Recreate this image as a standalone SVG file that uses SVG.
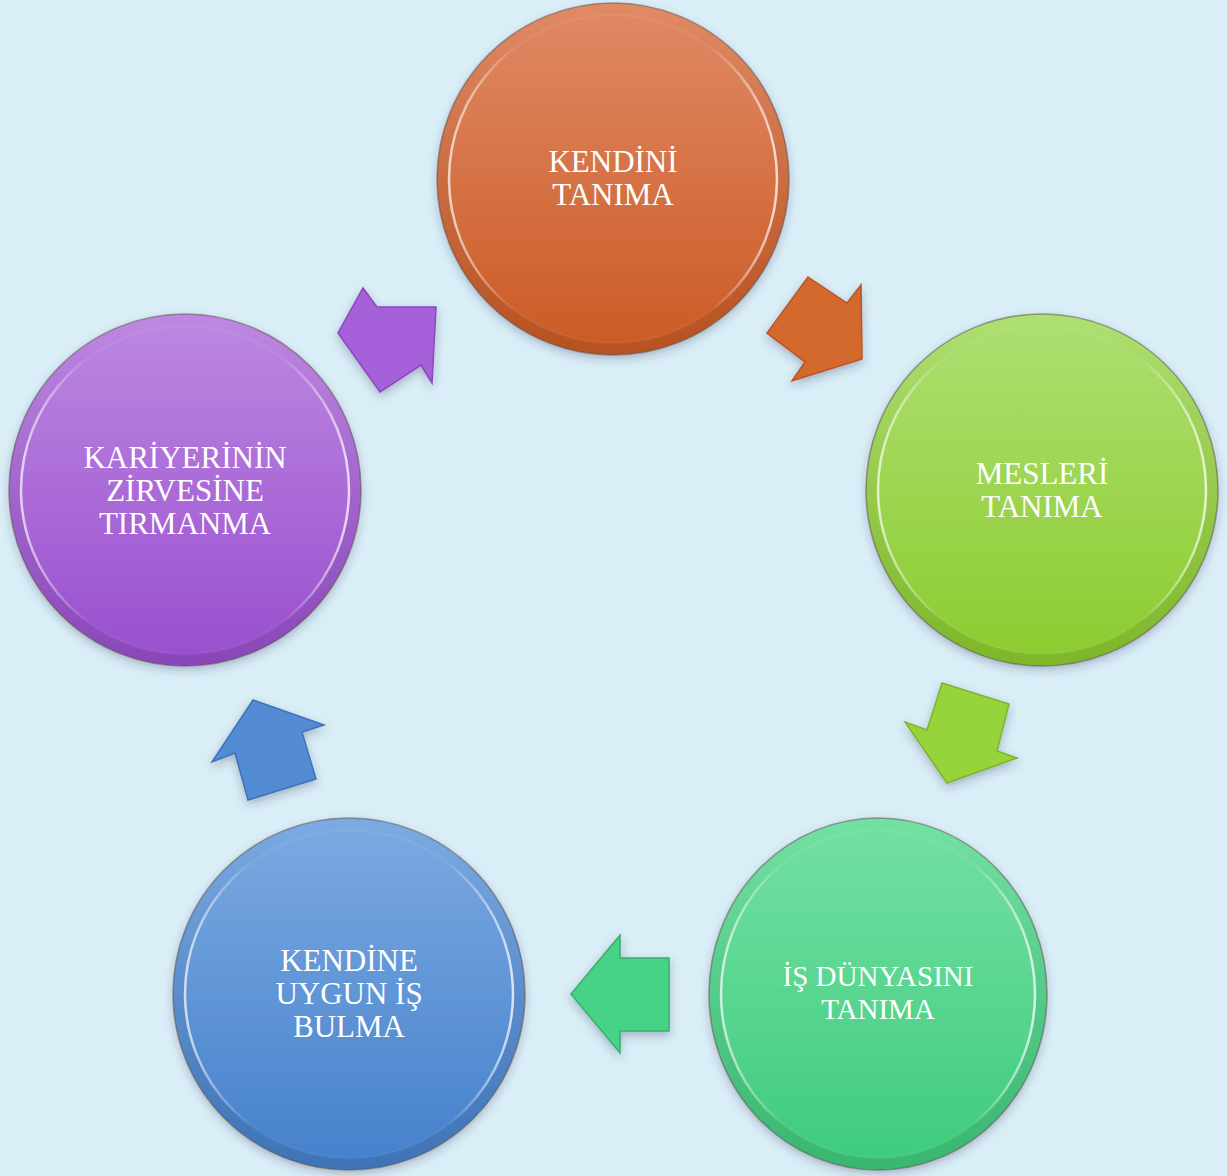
<svg xmlns="http://www.w3.org/2000/svg" width="1227" height="1176" viewBox="0 0 1227 1176">
<defs>
<linearGradient id="gOr" x1="0" y1="0" x2="0" y2="1"><stop offset="0" stop-color="#E08A66"/><stop offset="1" stop-color="#CB5A24"/></linearGradient>
<linearGradient id="gLi" x1="0" y1="0" x2="0" y2="1"><stop offset="0" stop-color="#AEDF72"/><stop offset="1" stop-color="#8CCB2E"/></linearGradient>
<linearGradient id="gGr" x1="0" y1="0" x2="0" y2="1"><stop offset="0" stop-color="#74E0A4"/><stop offset="1" stop-color="#3ECB7C"/></linearGradient>
<linearGradient id="gBl" x1="0" y1="0" x2="0" y2="1"><stop offset="0" stop-color="#7CAAE2"/><stop offset="1" stop-color="#4480CB"/></linearGradient>
<linearGradient id="gPu" x1="0" y1="0" x2="0" y2="1"><stop offset="0" stop-color="#BE88E2"/><stop offset="1" stop-color="#984ECD"/></linearGradient>
<linearGradient id="ring" x1="0" y1="0" x2="1" y2="0">
<stop offset="0" stop-color="#fff" stop-opacity="0.7"/>
<stop offset="0.2" stop-color="#fff" stop-opacity="0.05"/>
<stop offset="0.8" stop-color="#fff" stop-opacity="0.05"/>
<stop offset="1" stop-color="#fff" stop-opacity="0.75"/>
</linearGradient>
<linearGradient id="rim" x1="0" y1="0" x2="0" y2="1">
<stop offset="0" stop-color="#000" stop-opacity="0"/>
<stop offset="1" stop-color="#000" stop-opacity="0.1"/>
</linearGradient>
<filter id="sh" x="-20%" y="-20%" width="140%" height="140%">
<feDropShadow dx="0" dy="4" stdDeviation="5" flood-color="#335" flood-opacity="0.3"/>
</filter>
</defs>
<style>
.txt{font-family:"Liberation Serif","Times New Roman",serif;font-size:31px;fill:#fff;text-anchor:middle}
.sm{font-size:29px}
.edge{fill:none;stroke:#5a4a40;stroke-opacity:0.5;stroke-width:1.5}
.rimband{fill:none;stroke:url(#rim);stroke-width:12}
.hl{fill:none;stroke:url(#ring);stroke-width:2.5}
.arr{stroke-width:1.5;stroke-linejoin:miter}
</style>
<rect width="1227" height="1176" fill="#DAEEF7"/>

<g id="connectors">
<polygon class="arr" fill="#D4692F" stroke="#B75525" filter="url(#sh)" points="808,277 847,303 861,285 862,359 792,381 805,362 767,333"/>
<polygon class="arr" fill="#97D43A" stroke="#7DB52C" filter="url(#sh)" points="942,683 1009,704 997,751 1017,758 947,783 905,722 927,730"/>
<polygon class="arr" fill="#47D386" stroke="#36B06C" filter="url(#sh)" points="571,994 620,935 620,958 669,958 669,1031 620,1031 620,1053"/>
<polygon class="arr" fill="#528CD5" stroke="#3F73B5" filter="url(#sh)" points="253,700 324,725 302,732 316,779 248,800 235,753 212,762"/>
<polygon class="arr" fill="#A660DA" stroke="#8B48BD" filter="url(#sh)" points="363,288 377,307 436,307 432,383 421,365 380,392 338,333"/>
</g>

<g id="node-kendini-tanima">
<circle cx="613" cy="179" r="176" fill="url(#gOr)" filter="url(#sh)"/>
<circle cx="613" cy="179" r="170" class="rimband"/>
<circle cx="613" cy="179" r="164" class="hl"/>
<circle cx="613" cy="179" r="176" class="edge"/>
<text class="txt" x="613" y="172">KENDİNİ</text>
<text class="txt" x="613" y="205">TANIMA</text>
</g>

<g id="node-meslekleri-tanima">
<circle cx="1042" cy="490" r="176" fill="url(#gLi)" filter="url(#sh)"/>
<circle cx="1042" cy="490" r="170" class="rimband"/>
<circle cx="1042" cy="490" r="164" class="hl"/>
<circle cx="1042" cy="490" r="176" class="edge"/>
<text class="txt" x="1042" y="484">MESLERİ</text>
<text class="txt" x="1042" y="517">TANIMA</text>
</g>

<g id="node-is-dunyasini-tanima">
<ellipse cx="878" cy="994" rx="169" ry="176" fill="url(#gGr)" filter="url(#sh)"/>
<ellipse cx="878" cy="994" rx="163" ry="170" class="rimband"/>
<ellipse cx="878" cy="994" rx="157" ry="164" class="hl"/>
<ellipse cx="878" cy="994" rx="169" ry="176" class="edge"/>
<text class="txt sm" x="878" y="986">İŞ DÜNYASINI</text>
<text class="txt sm" x="878" y="1019">TANIMA</text>
</g>

<g id="node-kendine-uygun-is-bulma">
<circle cx="349" cy="994" r="176" fill="url(#gBl)" filter="url(#sh)"/>
<circle cx="349" cy="994" r="170" class="rimband"/>
<circle cx="349" cy="994" r="164" class="hl"/>
<circle cx="349" cy="994" r="176" class="edge"/>
<text class="txt" x="349" y="971">KENDİNE</text>
<text class="txt" x="349" y="1004">UYGUN İŞ</text>
<text class="txt" x="349" y="1037">BULMA</text>
</g>

<g id="node-kariyerinin-zirvesine-tirmanma">
<circle cx="185" cy="490" r="176" fill="url(#gPu)" filter="url(#sh)"/>
<circle cx="185" cy="490" r="170" class="rimband"/>
<circle cx="185" cy="490" r="164" class="hl"/>
<circle cx="185" cy="490" r="176" class="edge"/>
<text class="txt" x="185" y="468">KARİYERİNİN</text>
<text class="txt" x="185" y="501">ZİRVESİNE</text>
<text class="txt" x="185" y="534">TIRMANMA</text>
</g>
</svg>
